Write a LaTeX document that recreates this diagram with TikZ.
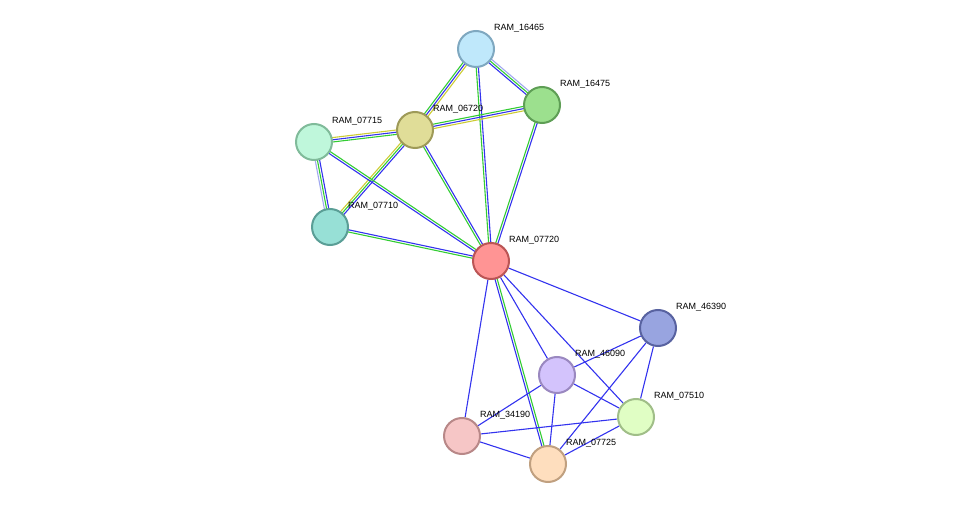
\documentclass[tikz,border=0pt]{standalone}
\usepackage{fontspec}
\setmainfont{Liberation Sans}
\usepackage{xcolor}
\usetikzlibrary{calc,backgrounds}
\definecolor{eblue}{HTML}{3333EE}
\definecolor{egreen}{HTML}{33CC33}
\definecolor{eyellow}{HTML}{CCCC33}
\definecolor{elav}{HTML}{A0A8F0}
\tikzset{
  prot/.style={circle, draw, line width=2pt, minimum size=36pt, inner sep=0pt},
  tag/.style ={anchor=west, inner sep=0pt, font=\fontsize{9}{10}\selectfont},
  edge/.style={line width=1.1pt}
}
% parallel lines between two proteins
\newcommand\link[4]{%
  \foreach \c [count=\i] in {#4}{%
    \pgfmathsetmacro\off{(\i-(#3+1)/2)*2.2}
    \draw[edge, \c] ($(#1)!\off pt!90:(#2)$) -- ($(#2)!\off pt!-90:(#1)$);
  }}
\newcommand\prot[5]{%
  \definecolor{f#1}{HTML}{#4}\definecolor{d#1}{HTML}{#5}%
  \node[prot, fill=f#1, draw=d#1] (#1) at (#2,#3) {};
  \node[tag] (t#1) at (#2+18,#3-21) {RAM\_#1};}
\begin{document}
\begin{tikzpicture}[x=1pt, y=-1pt]
  \useasboundingbox (0,0) rectangle (976,510);
  % proteins
  \prot{16465}{476}{49}{BFE8FB}{7FA8C0}
  \prot{16475}{542}{105}{9CE08E}{5E9E55}
  \prot{06720}{415}{130}{E0DD98}{9E9A58}
  \prot{07715}{314}{142}{BFF7DB}{80BB9A}
  \prot{07710}{330}{227}{97E0D6}{5A9E96}
  \prot{07720}{491}{261}{FF9494}{BB5555}
  \prot{46390}{658}{328}{98A4E0}{5862A0}
  \prot{46090}{557}{375}{D3C3FC}{9A88C0}
  \prot{07510}{636}{417}{E0FEC4}{A0BE88}
  \prot{34190}{462}{436}{F6C6C6}{B88888}
  \prot{07725}{548}{464}{FEDEBE}{C0A080}
  % links
  \begin{scope}[on background layer]
    \link{16465}{16475}{3}{eblue,egreen,elav}
    \link{16465}{06720}{3}{egreen,eblue,eyellow}
    \link{16465}{07720}{2}{egreen,eblue}
    \link{16475}{06720}{3}{egreen,eblue,eyellow}
    \link{16475}{07720}{2}{egreen,eblue}
    \link{06720}{07715}{3}{eyellow,eblue,egreen}
    \link{06720}{07710}{3}{eyellow,egreen,eblue}
    \link{06720}{07720}{2}{egreen,eblue}
    \link{07715}{07710}{3}{elav,egreen,eblue}
    \link{07715}{07720}{2}{eblue,egreen}
    \link{07710}{07720}{2}{egreen,eblue}
    \link{07720}{07725}{2}{eblue,egreen}
    \foreach \a/\b in {07720/46390, 07720/46090, 07720/07510, 07720/34190,
        46390/46090, 46390/07725, 46390/07510, 46090/34190, 46090/07510,
        46090/07725, 34190/07510, 34190/07725, 07510/07725}
      \draw[edge, eblue] (\a) -- (\b);
  \end{scope}
\end{tikzpicture}
\end{document}
